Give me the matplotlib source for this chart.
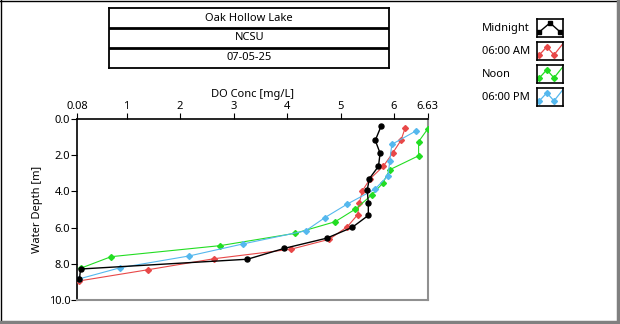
import numpy as np
import matplotlib
matplotlib.use('Agg')
import matplotlib.pyplot as plt
from matplotlib.lines import Line2D

plt.rcParams['font.family'] = ['Noto Sans', 'DejaVu Sans']
plt.rcParams['font.size'] = 8

# header rows
header = ['Oak Hollow Lake', 'NCSU', '07-05-25']

# depth profiles (DO in mg/L, depth in m)
series_names = ['Midnight', '06:00 AM', 'Noon', '06:00 PM']
series_colors = ['#000000', '#e84848', '#22dd22', '#55b8ee']

midnight_do = [5.76, 5.65, 5.74, 5.71, 5.54, 5.50, 5.52, 5.52, 5.22, 4.74, 3.95, 3.26, 0.14, 0.12]
midnight_depth = [0.40, 1.19, 1.90, 2.62, 3.30, 3.92, 4.66, 5.33, 5.99, 6.59, 7.15, 7.75, 8.29, 8.86]

am_do = [6.21, 6.13, 5.98, 5.80, 5.55, 5.41, 5.35, 5.32, 5.13, 4.79, 4.07, 2.64, 1.40, 0.11]
am_depth = [0.49, 1.19, 1.87, 2.62, 3.32, 3.97, 4.66, 5.29, 5.95, 6.65, 7.20, 7.72, 8.33, 8.95]

noon_do = [6.63, 6.46, 6.46, 5.92, 5.79, 5.58, 5.28, 4.90, 4.15, 2.75, 0.71, 0.14]
noon_depth = [0.56, 1.26, 2.04, 2.81, 3.56, 4.21, 4.98, 5.68, 6.32, 7.00, 7.61, 8.25]

pm_do = [6.41, 5.96, 5.92, 5.89, 5.64, 5.13, 4.71, 4.35, 3.17, 2.17, 0.88, 0.11]
pm_depth = [0.67, 1.41, 2.33, 3.14, 3.89, 4.70, 5.45, 6.18, 6.91, 7.57, 8.22, 8.84]

x_ticks = [0.08, 1, 2, 3, 4, 5, 6, 6.63]
x_ticklabels = ['0.08', '1', '2', '3', '4', '5', '6', '6.63']
y_ticks = [0, 2, 4, 6, 8, 10]

W, H = 620, 324
fig = plt.figure(figsize=(W / 100, H / 100), dpi=100)

def px_box(x0, y0, x1, y1):
    # pixel box (top-left origin) -> figure fraction [l, b, w, h]
    return [x0 / W, 1 - y1 / H, (x1 - x0) / W, (y1 - y0) / H]

# outer frame
fig.add_artist(Line2D([1 / W, 1 / W], [0, 1], color='black', lw=1.0, transform=fig.transFigure))
fig.add_artist(Line2D([0, 1], [1 - 0.5 / H, 1 - 0.5 / H], color='black', lw=1.0, transform=fig.transFigure))
fig.add_artist(Line2D([1 - 2 / W, 1 - 2 / W], [0, 1], color='#808080', lw=2.5, transform=fig.transFigure))
fig.add_artist(Line2D([0, 1], [2.5 / H, 2.5 / H], color='#808080', lw=2.5, transform=fig.transFigure))

# main plot
ax = fig.add_axes(px_box(77.3, 118.8, 427.7, 300))
data = [(midnight_do, midnight_depth), (am_do, am_depth), (noon_do, noon_depth), (pm_do, pm_depth)]
order = [2, 3, 1, 0]
for i in order:
    x, y = data[i]
    if i == 0:
        ax.plot(x, y, color=series_colors[i], lw=1.0, marker='o', ms=3.6, zorder=5)
    else:
        ax.plot(x, y, color=series_colors[i], lw=0.8, marker='D', ms=3.0, zorder=3 + i * 0.1)

ax.set_xlim(0.08, 6.63)
ax.set_ylim(10, 0)
ax.xaxis.tick_top()
ax.xaxis.set_label_position('top')
ax.set_xticks(x_ticks)
ax.set_xticklabels(x_ticklabels)
ax.set_yticks(y_ticks)
ax.set_yticklabels(['{:.1f}'.format(v) for v in y_ticks])
ax.tick_params(axis='both', length=4, width=0.8, pad=1, labelsize=8)
ax.set_xlabel('DO Conc [mg/L]', labelpad=3)
ax.set_ylabel('Water Depth [m]', labelpad=4)
for s in ['top', 'left']:
    ax.spines[s].set_color('black')
    ax.spines[s].set_linewidth(1.2)
for s in ['right', 'bottom']:
    ax.spines[s].set_color('#909090')
    ax.spines[s].set_linewidth(1.5)

# header table
tab = fig.add_axes(px_box(109.3, 8.3, 389.3, 67.7))
tab.set_xlim(0, 1)
tab.set_ylim(3, 0)
tab.set_xticks([])
tab.set_yticks([])
for s in tab.spines.values():
    s.set_linewidth(1.3)
for k in [1, 2]:
    tab.axhline(k, color='black', lw=2.0)
for k, t in enumerate(header):
    tab.text(0.5, k + 0.5, t, ha='center', va='center', fontsize=8)

# legend
icon_tops = [19.3, 42.3, 65.3, 88.3]
for i, name in enumerate(series_names):
    y0 = icon_tops[i]
    fig.text(482 / W, 1 - (y0 + 9) / H, name, ha='left', va='center', fontsize=8)
    ic = fig.add_axes(px_box(536.7, y0, 563.3, y0 + 18))
    ic.set_xlim(0, 1)
    ic.set_ylim(0, 1)
    ic.set_xticks([])
    ic.set_yticks([])
    for s in ic.spines.values():
        s.set_linewidth(1.2)
    if i == 0:
        ic.plot([0.1, 0.5, 0.88], [0.3, 0.8, 0.3], color='black', lw=1.0)
        ic.plot([0.1, 0.5, 0.88], [0.3, 0.8, 0.3], 's', color='black', ms=3)
    else:
        ic.plot([0.0, 0.1, 0.38, 0.65, 1.0], [0.05, 0.3, 0.75, 0.3, 0.95], color=series_colors[i], lw=0.9)
        ic.plot([0.1, 0.38, 0.65], [0.3, 0.75, 0.3], 'D', color=series_colors[i], ms=3)

fig.savefig('out.png', dpi=100)
